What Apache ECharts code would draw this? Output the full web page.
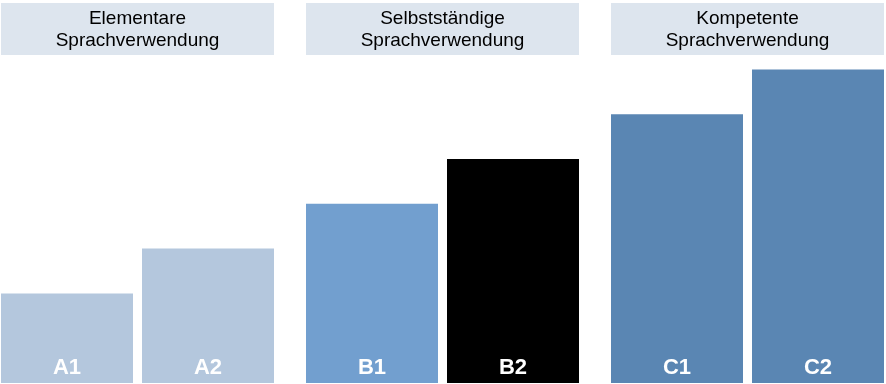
<!DOCTYPE html>
<html>
<head>
<meta charset="utf-8">
<script src="https://cdn.jsdelivr.net/npm/echarts@6/dist/echarts.min.js"></script>
<style>
html,body{margin:0;padding:0;background:#fff;}
#chart{width:886px;height:384px;}
</style>
</head>
<body>
<div id="chart"></div>
<script>
// Data
var groups = ['Elementare\nSprachverwendung', 'Selbstständige\nSprachverwendung', 'Kompetente\nSprachverwendung'];
var levels = [['A1', 'A2'], ['B1', 'B2'], ['C1', 'C2']];
var values = [[2, 3], [4, 5], [6, 7]];
var colors = [['#b4c7dd', '#b4c7dd'], ['#729fcf', '#000000'], ['#5a86b3', '#5a86b3']];

// Layout constants
var groupStep = 305, firstLeft = 1, barW = 132, gap = 9;
var groupW = barW * 2 + gap;
var centerDist = barW + gap;

var grids = [], xAxes = [], yAxes = [], series = [], graphics = [];
groups.forEach(function (g, i) {
  var x0 = firstLeft + groupStep * i;
  var gl = x0 + barW / 2;
  grids.push({ left: gl, width: centerDist, top: 0, bottom: 1, containLabel: false });
  xAxes.push({
    gridIndex: i, type: 'category', data: levels[i], boundaryGap: false,
    axisLine: { show: false }, axisTick: { show: false }, axisLabel: { show: false }, splitLine: { show: false }
  });
  yAxes.push({
    gridIndex: i, type: 'value', min: 0, max: 8.55,
    axisLine: { show: false }, axisTick: { show: false }, axisLabel: { show: false }, splitLine: { show: false }
  });
  series.push({
    type: 'bar', xAxisIndex: i, yAxisIndex: i, barWidth: barW,
    data: values[i].map(function (v, j) {
      return { value: v, name: levels[i][j], itemStyle: { color: colors[i][j] } };
    }),
    label: {
      show: true, position: 'insideBottom', distance: 4,
      formatter: '{b}', color: '#ffffff',
      fontFamily: 'Liberation Sans, Arial, sans-serif', fontWeight: 'bold', fontSize: 22
    }
  });
  graphics.push({
    type: 'rect', shape: { x: x0, y: 3, width: groupW, height: 52 },
    style: { fill: '#dde5ee' }, silent: true
  });
  graphics.push({
    type: 'text', x: x0 + groupW / 2, y: 30,
    style: {
      text: g, fill: '#000', font: '19px "Liberation Sans", Arial, sans-serif',
      align: 'center', verticalAlign: 'middle', lineHeight: 22
    }, silent: true
  });
});

var chart = echarts.init(document.getElementById('chart'), null, { renderer: 'canvas' });
chart.setOption({
  animation: false,
  backgroundColor: '#ffffff',
  grid: grids,
  xAxis: xAxes,
  yAxis: yAxes,
  series: series,
  graphic: graphics
});
</script>
</body>
</html>
